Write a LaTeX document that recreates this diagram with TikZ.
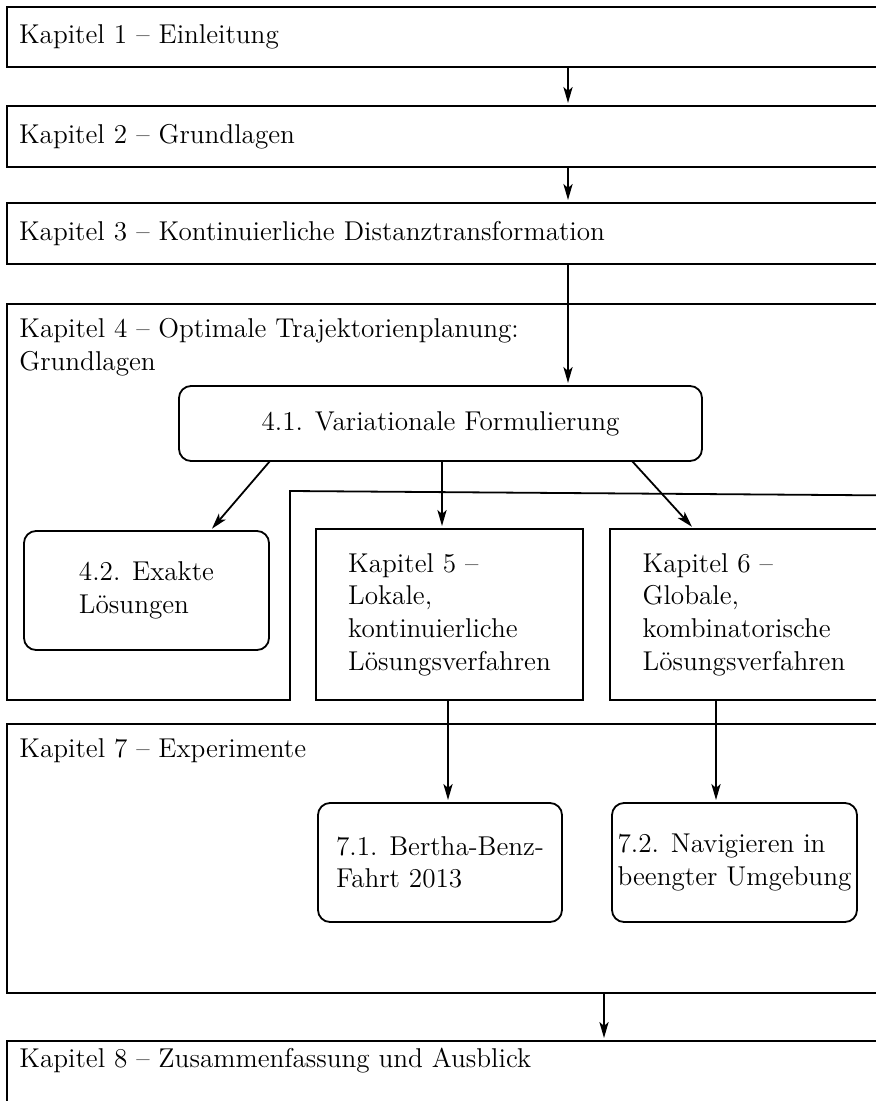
\documentclass[tikz,border=0pt]{standalone}
\usetikzlibrary{arrows.meta,calc}
\begin{document}
\begin{tikzpicture}[x=0.5pt,y=-0.5pt,
  every node/.style={font=\fontsize{13.6pt}{16.3pt}\selectfont},
  frame/.style={line width=0.9pt},
  chapbox/.style={draw, line width=0.9pt, rectangle, anchor=north west, inner sep=0pt, outer sep=0pt},
  chaptext/.style={chapbox, inner xsep=6pt, text width=434.5pt, align=left, minimum width=446.5pt, minimum height=30.5pt},
  secbox/.style={draw, line width=0.9pt, rounded corners=6pt, anchor=north west, align=left, inner sep=0pt, outer sep=0pt},
  subbox/.style={draw, line width=0.9pt, rectangle, anchor=north west, align=left, inner sep=0pt, outer sep=0pt},
  title/.style={anchor=base west, inner sep=0pt, align=left},
  arr/.style={line width=0.9pt, -{Stealth[length=8pt,width=4.6pt,inset=2pt]}, shorten >=1.5pt},
]
\useasboundingbox (0,0) rectangle (876,1101);
\clip (0,0) rectangle (876,1101);

% x positions for connectors
\coordinate (x568) at (568,0);
\coordinate (x270) at (270,0);
\coordinate (x210) at (210,0);
\coordinate (x442) at (442,0);
\coordinate (x632) at (632,0);
\coordinate (x694) at (694,0);
\coordinate (x448) at (448,0);
\coordinate (x716) at (716,0);
\coordinate (x604) at (604,0);

% chapters 1-3
\node[chaptext, minimum height=30pt] (k1) at (7,7) {Kapitel 1 – Einleitung};
\node[chaptext] (k2) at (7,106) {Kapitel 2 – Grundlagen};
\node[chaptext] (k3) at (7,203) {Kapitel 3 – Kontinuierliche Distanztransformation};

% chapter 4 container
\draw[frame] (900,304) -- (7,304) -- (7,700) -- (290,700) -- (290,491) -- (900,495.5);
\node[title] (k4t) at (19,370) {Kapitel 4 – Optimale Trajektorienplanung:\\Grundlagen};

\node[secbox, minimum width=261.5pt, minimum height=37.5pt, align=center] (v41) at (179,386) {4.1. Variationale Formulierung};
\node[secbox, minimum width=122.5pt, minimum height=59.5pt] (e42) at (24,531) {4.2. Exakte\\Lösungen};

\node[subbox, minimum width=133.5pt, minimum height=85.5pt] (k5) at (316,529) {Kapitel 5 –\\Lokale,\\kontinuierliche\\Lösungsverfahren};
\node[subbox, minimum width=134pt, minimum height=85.5pt] (k6) at (610,529) {Kapitel 6 –\\Globale,\\kombinatorische\\Lösungsverfahren};

% chapter 7 container
\node[chapbox, minimum width=446.5pt, minimum height=134.5pt] (k7) at (7,724) {};
\node[title] (k7t) at (19,757) {Kapitel 7 – Experimente};

\node[secbox, minimum width=122pt, minimum height=59.5pt] (s71) at (318,803) {7.1. Bertha-Benz-\\Fahrt 2013};
\node[secbox, minimum width=122.5pt, minimum height=59.5pt] (s72) at (612,803) {7.2. Navigieren in\\beengter Umgebung};

% chapter 8
\node[chapbox, minimum width=446.5pt, minimum height=50pt] (k8) at (7,1041) {};
\node[title] (k8t) at (19,1067) {Kapitel 8 – Zusammenfassung und Ausblick};

% connectors
\draw[arr] (k1.south -| x568) -- (k2.north -| x568);
\draw[arr] (k2.south -| x568) -- (k3.north -| x568);
\draw[arr] (k3.south -| x568) -- (v41.north -| x568);
\draw[arr] (v41.south -| x270) -- (e42.north -| x210);
\draw[arr] (v41.south -| x442) -- (k5.north -| x442);
\draw[arr] (v41.south -| x632) -- (k6.north -| x694);
\draw[arr] (k5.south -| x448) -- (s71.north -| x448);
\draw[arr] (k6.south -| x716) -- (s72.north -| x716);
\draw[arr] (k7.south -| x604) -- (k8.north -| x604);
\end{tikzpicture}
\end{document}
